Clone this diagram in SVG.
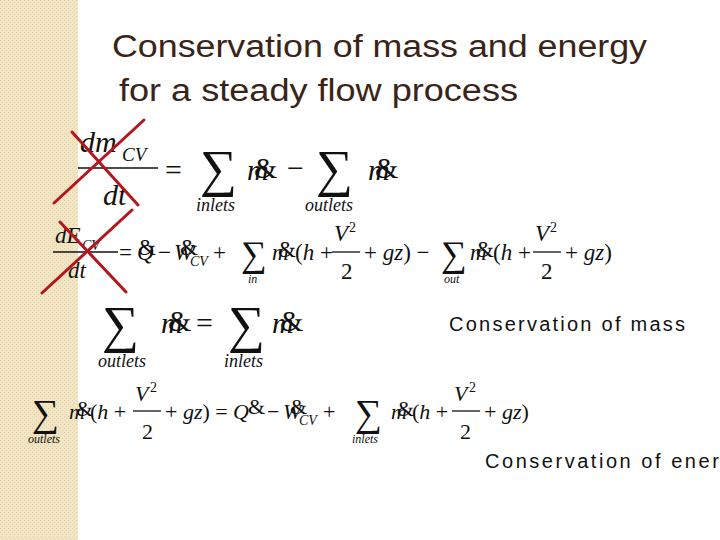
<svg xmlns="http://www.w3.org/2000/svg" width="720" height="540" viewBox="0 0 720 540">
<style>
.t{font-family:"Liberation Sans",Arial,sans-serif;fill:#3a2418}
.m{font-family:"Liberation Serif","Times New Roman",serif;fill:#111}
.i{font-style:italic}
.x{stroke:#b3161c;stroke-width:3;stroke-linecap:round}
.f{stroke:#111;stroke-width:1.3}
.c{font-family:"Liberation Sans",Arial,sans-serif;fill:#111;font-size:20px}
</style>
<defs>
<pattern id="p" width="4" height="4" patternUnits="userSpaceOnUse">
<rect width="4" height="4" fill="#f1e5c3"/><rect width="1" height="1" fill="#e2d2a6"/><rect x="2" y="2" width="1" height="1" fill="#e2d2a6"/>
</pattern>
</defs>
<rect width="720" height="540" fill="#fff"/>
<rect width="78" height="540" fill="url(#p)"/>
<g id="title" class="t" font-size="31">
<text x="112" y="57" textLength="535" lengthAdjust="spacingAndGlyphs">Conservation of mass and energy</text>
<text x="119" y="101" textLength="399" lengthAdjust="spacingAndGlyphs">for a steady flow process</text>
</g>
<g id="eq1" class="m">
<text x="80" y="152" font-size="30" class="i">dm</text>
<text x="122" y="161" font-size="19" class="i">CV</text>
<line class="f" x1="78" y1="168" x2="158" y2="168"/>
<text x="103" y="205" font-size="30" class="i">dt</text>
<text x="165" y="180" font-size="30">=</text>
<text x="200" y="186" font-size="52">∑</text>
<text x="196" y="211" font-size="18" class="i">inlets</text>
<text x="247" y="180" font-size="30" class="i">m</text><text x="254" y="178" font-size="30">&amp;</text>
<text x="287" y="178" font-size="30">−</text>
<text x="316" y="186" font-size="52">∑</text>
<text x="305" y="211" font-size="18" class="i">outlets</text>
<text x="368" y="180" font-size="30" class="i">m</text><text x="375" y="178" font-size="30">&amp;</text>
</g>
<g id="eq2" class="m" font-size="23">
<text x="55" y="243" class="i">dE</text><text x="82" y="250" font-size="14" class="i">CV</text>
<line class="f" x1="53" y1="252" x2="118" y2="252"/>
<text x="68" y="278" class="i">dt</text>
<text x="119" y="260">=</text>
<text x="137" y="260" class="i">Q</text><text x="138" y="255">&amp;</text>
<text x="158" y="260">−</text>
<text x="174" y="260" class="i">W</text><text x="180" y="255">&amp;</text><text x="190" y="266" font-size="14" class="i">CV</text>
<text x="213" y="260">+</text>
<text x="241" y="266" font-size="36">∑</text>
<text x="248" y="283" font-size="12" class="i">in</text>
<text x="272" y="260" class="i">m</text><text x="278" y="257">&amp;</text>
<text x="295" y="260">(<tspan class="i">h</tspan> +</text>
<text x="334" y="241" class="i">V</text><text x="349" y="232" font-size="14">2</text>
<line class="f" x1="332" y1="252" x2="360" y2="252"/>
<text x="341" y="279">2</text>
<text x="364" y="260">+ <tspan class="i">gz</tspan>) −</text>
<text x="441" y="266" font-size="36">∑</text>
<text x="444" y="283" font-size="12" class="i">out</text>
<text x="470" y="260" class="i">m</text><text x="476" y="257">&amp;</text>
<text x="493" y="260">(<tspan class="i">h</tspan> +</text>
<text x="535" y="241" class="i">V</text><text x="550" y="232" font-size="14">2</text>
<line class="f" x1="533" y1="252" x2="561" y2="252"/>
<text x="541" y="279">2</text>
<text x="565" y="260">+ <tspan class="i">gz</tspan>)</text>
</g>
<g id="eq3" class="m">
<text x="102" y="342" font-size="52">∑</text>
<text x="98" y="367" font-size="18" class="i">outlets</text>
<text x="161" y="333" font-size="30" class="i">m</text><text x="168" y="331" font-size="30">&amp;</text>
<text x="196" y="333" font-size="30">=</text>
<text x="228" y="342" font-size="52">∑</text>
<text x="224" y="367" font-size="18" class="i">inlets</text>
<text x="272" y="333" font-size="30" class="i">m</text><text x="280" y="331" font-size="30">&amp;</text>
</g>
<text id="lbl1" class="c" x="449" y="331" textLength="236" lengthAdjust="spacing">Conservation of mass</text>
<g id="eq4" class="m" font-size="22">
<text x="32" y="426" font-size="38">∑</text>
<text x="28" y="443" font-size="12" class="i">outlets</text>
<text x="69" y="419" class="i">m</text><text x="76" y="416">&amp;</text>
<text x="90" y="419">(<tspan class="i">h</tspan> +</text>
<text x="135" y="401" class="i">V</text><text x="150" y="392" font-size="14">2</text>
<line class="f" x1="133" y1="411" x2="161" y2="411"/>
<text x="142" y="439">2</text>
<text x="165" y="419">+ <tspan class="i">gz</tspan>) =</text>
<text x="233" y="419" class="i">Q</text><text x="248" y="414">&amp;</text>
<text x="267" y="419">−</text>
<text x="283" y="419" class="i">W</text><text x="290" y="414">&amp;</text><text x="299" y="425" font-size="14" class="i">CV</text>
<text x="323" y="419">+</text>
<text x="355" y="426" font-size="38">∑</text>
<text x="352" y="443" font-size="12" class="i">inlets</text>
<text x="391" y="419" class="i">m</text><text x="397" y="416">&amp;</text>
<text x="412" y="419">(<tspan class="i">h</tspan> +</text>
<text x="454" y="401" class="i">V</text><text x="469" y="392" font-size="14">2</text>
<line class="f" x1="452" y1="411" x2="480" y2="411"/>
<text x="460" y="439">2</text>
<text x="484" y="419">+ <tspan class="i">gz</tspan>)</text>
</g>
<text id="lbl2" class="c" x="485" y="468" textLength="260" lengthAdjust="spacing">Conservation of energy</text>
<g id="crosses">
<line class="x" x1="54" y1="203" x2="144" y2="120"/>
<line class="x" x1="72" y1="132" x2="138" y2="205"/>
<line class="x" x1="42" y1="293" x2="132" y2="210"/>
<line class="x" x1="60" y1="222" x2="126" y2="292"/>
</g>
</svg>
